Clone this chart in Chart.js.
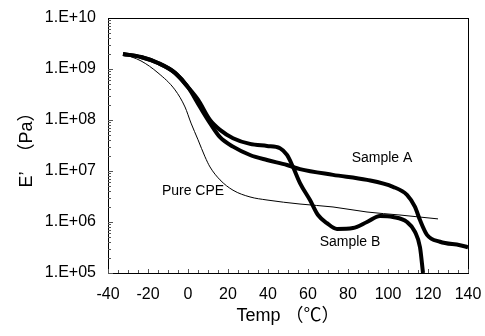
<!DOCTYPE html>
<html>
<head>
<meta charset="utf-8">
<script src="https://cdn.jsdelivr.net/npm/chart.js@4.4.1/dist/chart.umd.min.js"></script>
<style>
  html, body { margin: 0; padding: 0; background: #fff; }
</style>
</head>
<body>
<canvas id="grafik" width="485" height="336"></canvas>
<script>
// temperatures (°C) and storage modulus E' (Pa)
const tempA = [-32.5, -23.5, -15, -6.5, 0, 6, 11, 16, 22.5, 31, 39.5, 49.5, 56, 72.5, 89.5, 102.5, 109.5, 113.5, 116, 119.5, 126, 136, 140];
const modA  = [1.97e9, 1.72e9, 1.31e9, 8.4e8, 4.4e8, 1.8e8, 8.7e7, 4.6e7, 3.0e7, 2.06e7, 1.64e7, 1.31e7, 1.09e7, 8.4e6, 6.7e6, 4.9e6, 3.4e6, 1.97e6, 1.09e6, 5.6e5, 4.1e5, 3.5e5, 3.2e5];

const tempB = [-32.5, -23.5, -15, -6.5, 0, 5, 11, 16, 22.5, 31, 39.5, 46, 49.5, 52.5, 56, 61, 65, 69.5, 74.5, 82.5, 89.5, 96, 102.5, 109.5, 113.5, 116, 117.5];
const modB  = [1.97e9, 1.72e9, 1.31e9, 8.4e8, 4.4e8, 2.5e8, 1.0e8, 6.4e7, 4.4e7, 3.4e7, 3.1e7, 2.8e7, 2.06e7, 1.2e7, 5.8e6, 2.7e6, 1.37e6, 9.5e5, 7.3e5, 7.6e5, 1.0e6, 1.31e6, 1.25e6, 1.0e6, 6.4e5, 3.2e5, 1.0e5];

const tempCPE = [-32.5, -23.5, -15, -6.5, -1.5, 1.5, 5, 8.5, 11, 16, 22.5, 31, 39.5, 56, 72.5, 89.5, 106, 125];
const modCPE  = [1.97e9, 1.44e9, 8.4e8, 3.9e8, 1.8e8, 8.7e7, 4.1e7, 1.9e7, 1.2e7, 6.7e6, 4.2e6, 3.1e6, 2.7e6, 2.25e6, 1.97e6, 1.57e6, 1.37e6, 1.15e6];

const curveLabels = ['Sample A', 'Sample B', 'Pure CPE'];
const labelTemps = [97, 81, 2.5];
const labelMods = [1.8e7, 4.1e5, 4.1e6];

const xTicks = [-40, -20, 0, 20, 40, 60, 80, 100, 120, 140];

const FONT = "'Liberation Sans', 'Noto Sans CJK JP', Arial, sans-serif";
Chart.defaults.font.family = FONT;
Chart.defaults.color = '#000';

function toPoints(xs, ys) {
    return xs.map((x, i) => ({ x: x, y: ys[i] }));
}

// frame, inward ticks and curve labels
const decorations = {
    id: 'decorations',
    afterDraw(chart) {
        const ctx = chart.ctx;
        const area = chart.chartArea;
        const xs = chart.scales.x;
        const ys = chart.scales.y;
        ctx.save();
        ctx.strokeStyle = '#000';
        ctx.lineWidth = 1;
        ctx.strokeRect(Math.round(area.left) + 0.5, Math.round(area.top) + 0.5,
            Math.round(area.right - area.left), Math.round(area.bottom - area.top));

        ctx.strokeStyle = '#555';
        ctx.beginPath();
        for (let t = -40; t <= 140; t += 5) {
            const px = Math.round(xs.getPixelForValue(t)) + 0.5;
            const len = (t % 20 === 0) ? 4 : 3;
            ctx.moveTo(px, area.bottom);
            ctx.lineTo(px, area.bottom - len);
        }
        for (let e = 5; e < 10; e++) {
            for (let m = 1; m <= 9; m++) {
                const py = Math.round(ys.getPixelForValue(m * Math.pow(10, e))) + 0.5;
                const len = m === 1 ? 5 : 3;
                ctx.moveTo(area.left, py);
                ctx.lineTo(area.left + len, py);
            }
        }
        ctx.stroke();

        ctx.fillStyle = '#000';
        ctx.font = '14px ' + FONT;
        ctx.textAlign = 'center';
        ctx.textBaseline = 'middle';
        curveLabels.forEach((txt, i) => {
            ctx.fillText(txt, xs.getPixelForValue(labelTemps[i]), ys.getPixelForValue(labelMods[i]));
        });
        ctx.restore();
    }
};

const data = {
    datasets: [{
        label: 'Sample A',
        data: toPoints(tempA, modA),
        borderColor: '#000',
        borderWidth: 4,
        pointRadius: 0,
        cubicInterpolationMode: 'monotone'
    }, {
        label: 'Sample B',
        data: toPoints(tempB, modB),
        borderColor: '#000',
        borderWidth: 4,
        pointRadius: 0,
        cubicInterpolationMode: 'monotone'
    }, {
        label: 'Pure CPE',
        data: toPoints(tempCPE, modCPE),
        borderColor: '#000',
        borderWidth: 1,
        pointRadius: 0,
        cubicInterpolationMode: 'monotone'
    }]
};

const options = {
    responsive: false,
    animation: false,
    layout: { padding: { top: 18, right: 17, left: 0, bottom: 0 } },
    plugins: {
        legend: { display: false },
        tooltip: { enabled: false }
    },
    scales: {
        x: {
            type: 'linear',
            min: -40,
            max: 140,
            afterBuildTicks: (scale) => { scale.ticks = xTicks.map(v => ({ value: v })); },
            afterFit: (scale) => {
                scale.height = 63;
                scale.paddingLeft = 0;
                scale.paddingRight = 0;
            },
            grid: { display: false, drawTicks: false },
            border: { display: false },
            ticks: { font: { size: 16 }, padding: 12, maxRotation: 0 },
            title: {
                display: true,
                text: 'Temp （℃）',
                font: { size: 18 },
                padding: { top: 0, bottom: 9 }
            }
        },
        y: {
            type: 'logarithmic',
            min: 1e5,
            max: 1e10,
            afterFit: (scale) => {
                scale.width = 108;
                scale.paddingTop = 0;
                scale.paddingBottom = 0;
            },
            grid: { display: false, drawTicks: false },
            border: { display: false },
            ticks: {
                font: { size: 16 },
                padding: 12,
                autoSkip: false,
                callback: (value) => {
                    const e = Math.log10(value);
                    if (Math.abs(e - Math.round(e)) > 1e-9) return '';
                    const n = Math.round(e);
                    return '1.E+' + (n < 10 ? '0' + n : n);
                }
            },
            title: {
                display: true,
                text: 'E’  （Pa）',
                font: { size: 18 },
                padding: { top: 16, bottom: 0 }
            }
        }
    }
};

new Chart(document.getElementById('grafik'), { type: 'line', data: data, options: options, plugins: [decorations] });
</script>
</body>
</html>
